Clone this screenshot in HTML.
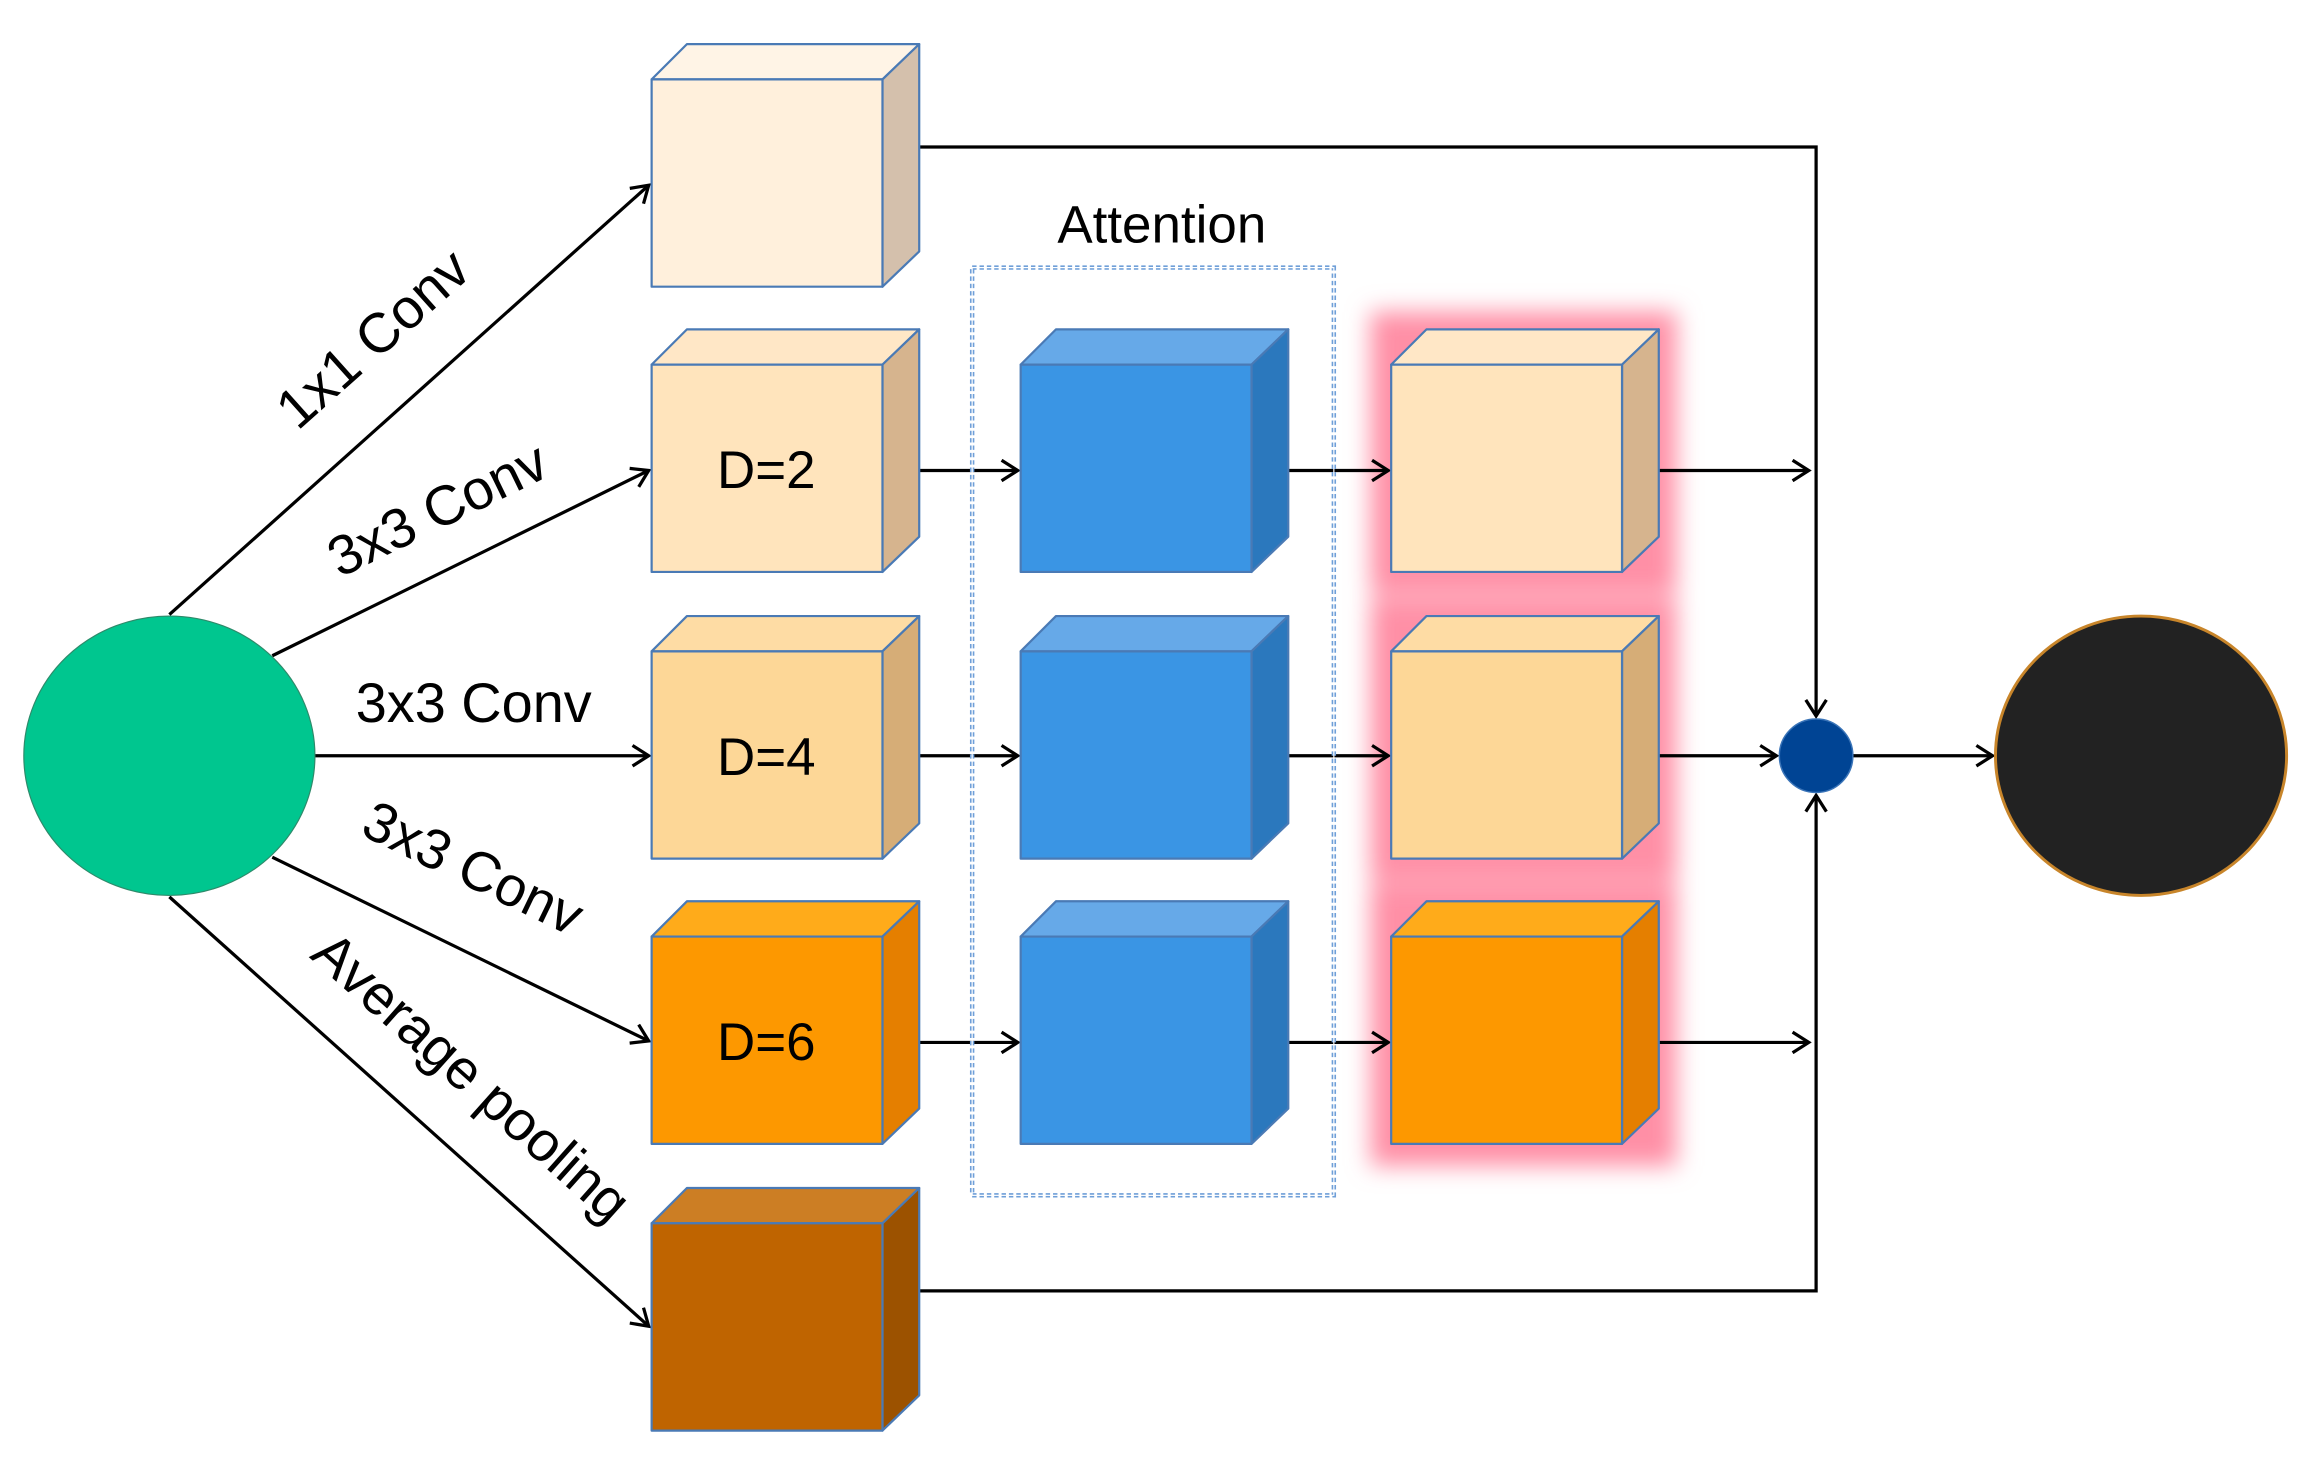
<!DOCTYPE html>
<html><head><meta charset="utf-8"><style>
html,body{margin:0;padding:0;background:#fff;}
svg{display:block;}
text{font-family:"Liberation Sans",Arial,sans-serif;fill:#000;}
</style></head><body>
<svg width="2306" height="1460" viewBox="0 0 1568 993" xmlns="http://www.w3.org/2000/svg">
<defs>
<marker id="ar" markerWidth="16" markerHeight="16" refX="13" refY="8" orient="auto" markerUnits="userSpaceOnUse">
<path d="M2,1 L13,8 L2,15" fill="none" stroke="#000" stroke-width="2.2"/>
</marker>
<filter id="glow" x="-30%" y="-30%" width="160%" height="160%"><feGaussianBlur stdDeviation="8"/></filter>
</defs>

<!-- pink glows -->
<g filter="url(#glow)" fill="#ff8fa6">
<rect x="932" y="212" width="208" height="192"/>
<rect x="932" y="407" width="208" height="192"/>
<rect x="932" y="601" width="208" height="192"/>
</g>

<!-- connectors -->
<g stroke="#000" stroke-width="2.2" fill="none">
<line x1="115" y1="418" x2="441" y2="126" marker-end="url(#ar)"/>
<line x1="185" y1="446" x2="441" y2="320" marker-end="url(#ar)"/>
<line x1="214" y1="514" x2="441" y2="514" marker-end="url(#ar)"/>
<line x1="185" y1="583" x2="441" y2="708" marker-end="url(#ar)"/>
<line x1="115" y1="610" x2="441" y2="902" marker-end="url(#ar)"/>
<line x1="600" y1="320" x2="692" y2="320" marker-end="url(#ar)"/>
<line x1="600" y1="514" x2="692" y2="514" marker-end="url(#ar)"/>
<line x1="600" y1="709" x2="692" y2="709" marker-end="url(#ar)"/>
<line x1="852" y1="320" x2="944" y2="320" marker-end="url(#ar)"/>
<line x1="852" y1="514" x2="944" y2="514" marker-end="url(#ar)"/>
<line x1="852" y1="709" x2="944" y2="709" marker-end="url(#ar)"/>
<line x1="1128" y1="320" x2="1230" y2="320" marker-end="url(#ar)"/>
<line x1="1128" y1="514" x2="1208" y2="514" marker-end="url(#ar)"/>
<line x1="1128" y1="709" x2="1230" y2="709" marker-end="url(#ar)"/>
<line x1="1260" y1="514" x2="1355" y2="514" marker-end="url(#ar)"/>
<polyline points="625,100 1235,100 1235,487" marker-end="url(#ar)"/>
<polyline points="625,878 1235,878 1235,541" marker-end="url(#ar)"/>
</g>

<!-- dotted attention box -->
<rect x="661" y="182" width="246" height="631" fill="none" stroke="#6f9fd8" stroke-width="3" stroke-dasharray="3,2"/>
<rect x="661" y="182" width="246" height="631" fill="none" stroke="#fff" stroke-width="0.8"/>
<text x="790" y="165" font-size="36" text-anchor="middle">Attention</text>

<g stroke="#4a7ab5" stroke-width="1.5" stroke-linejoin="round">
<g transform="translate(443,30)">
<path d="M0,24 L24,0 L182,0 L157,24Z" fill="#fff4e6"/><path d="M157,24 L182,0 L182,141 L157,165Z" fill="#d4c0ac"/><rect x="0" y="24" width="157" height="141" fill="#fff0dc"/></g>
<g transform="translate(443,224)">
<path d="M0,24 L24,0 L182,0 L157,24Z" fill="#ffe7c6"/><path d="M157,24 L182,0 L182,141 L157,165Z" fill="#d6b48e"/><rect x="0" y="24" width="157" height="141" fill="#ffe4bc"/></g>
<g transform="translate(443,419)">
<path d="M0,24 L24,0 L182,0 L157,24Z" fill="#fedca4"/><path d="M157,24 L182,0 L182,141 L157,165Z" fill="#d6ad77"/><rect x="0" y="24" width="157" height="141" fill="#fdd797"/></g>
<g transform="translate(443,613)">
<path d="M0,24 L24,0 L182,0 L157,24Z" fill="#ffab1a"/><path d="M157,24 L182,0 L182,141 L157,165Z" fill="#e57f00"/><rect x="0" y="24" width="157" height="141" fill="#fd9800"/></g>
<g transform="translate(443,808)">
<path d="M0,24 L24,0 L182,0 L157,24Z" fill="#cc7e24"/><path d="M157,24 L182,0 L182,141 L157,165Z" fill="#9c5200"/><rect x="0" y="24" width="157" height="141" fill="#bf6400"/></g>
<g transform="translate(694,224)">
<path d="M0,24 L24,0 L182,0 L157,24Z" fill="#66a9e8"/><path d="M157,24 L182,0 L182,141 L157,165Z" fill="#2b78bd"/><rect x="0" y="24" width="157" height="141" fill="#3a95e4"/></g>
<g transform="translate(694,419)">
<path d="M0,24 L24,0 L182,0 L157,24Z" fill="#66a9e8"/><path d="M157,24 L182,0 L182,141 L157,165Z" fill="#2b78bd"/><rect x="0" y="24" width="157" height="141" fill="#3a95e4"/></g>
<g transform="translate(694,613)">
<path d="M0,24 L24,0 L182,0 L157,24Z" fill="#66a9e8"/><path d="M157,24 L182,0 L182,141 L157,165Z" fill="#2b78bd"/><rect x="0" y="24" width="157" height="141" fill="#3a95e4"/></g>
<g transform="translate(946,224)">
<path d="M0,24 L24,0 L182,0 L157,24Z" fill="#ffe7c6"/><path d="M157,24 L182,0 L182,141 L157,165Z" fill="#d6b48e"/><rect x="0" y="24" width="157" height="141" fill="#ffe4bc"/></g>
<g transform="translate(946,419)">
<path d="M0,24 L24,0 L182,0 L157,24Z" fill="#fedca4"/><path d="M157,24 L182,0 L182,141 L157,165Z" fill="#d6ad77"/><rect x="0" y="24" width="157" height="141" fill="#fdd797"/></g>
<g transform="translate(946,613)">
<path d="M0,24 L24,0 L182,0 L157,24Z" fill="#ffab1a"/><path d="M157,24 L182,0 L182,141 L157,165Z" fill="#e57f00"/><rect x="0" y="24" width="157" height="141" fill="#fd9800"/></g>
</g>

<text x="521" y="332" font-size="36" text-anchor="middle">D=2</text>
<text x="521" y="527" font-size="36" text-anchor="middle">D=4</text>
<text x="521" y="721" font-size="36" text-anchor="middle">D=6</text>

<ellipse cx="115" cy="514" rx="99" ry="95" fill="#00c68f" stroke="#2e8a6a" stroke-width="0.8"/>
<ellipse cx="1456" cy="514" rx="99" ry="95" fill="#222" stroke="#c8852a" stroke-width="2"/>
<ellipse cx="1235" cy="514" rx="25" ry="25" fill="#004494" stroke="#3a74b8" stroke-width="1"/>

<text font-size="38" text-anchor="middle" transform="translate(262,240) rotate(-41.8)">1x1 Conv</text>
<text font-size="38" text-anchor="middle" transform="translate(303,358) rotate(-26)">3x3 Conv</text>
<text font-size="38" text-anchor="middle" x="322" y="491">3x3 Conv</text>
<text font-size="38" text-anchor="middle" transform="translate(316,602) rotate(25.8)">3x3 Conv</text>
<text font-size="38" text-anchor="middle" transform="translate(312,742) rotate(41.7)">Average pooling</text>
</svg>
</body></html>
